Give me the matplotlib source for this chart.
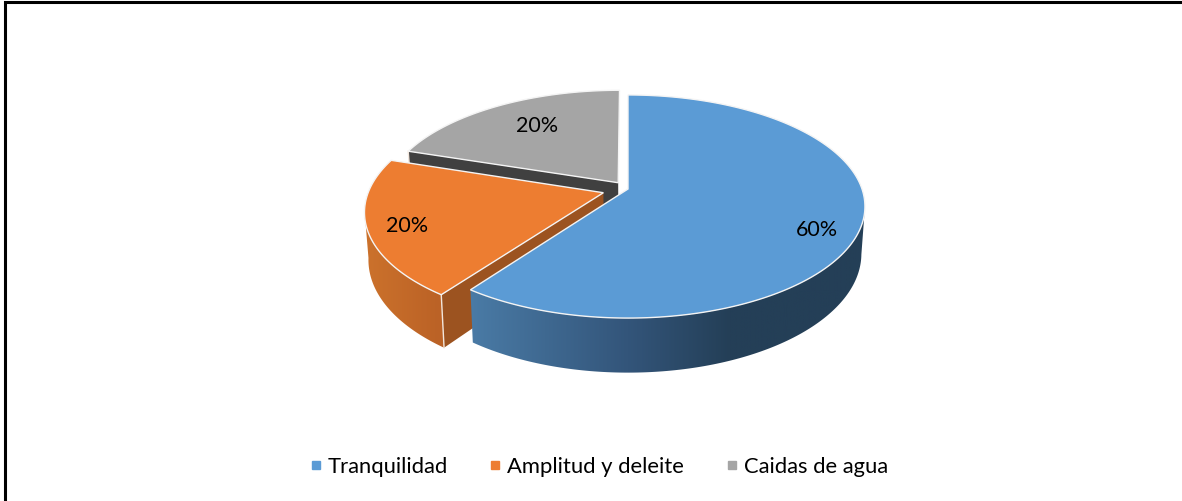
import matplotlib
matplotlib.use('Agg')
import matplotlib.pyplot as plt
from matplotlib.lines import Line2D
from matplotlib.patches import Polygon
import matplotlib.colors as mcolors
import numpy as np

categories = ['Tranquilidad', 'Amplitud y deleite', 'Caidas de agua']
values = [60, 20, 20]
labels = ['60%', '20%', '20%']
explode = [0.0, 0.11, 0.072]

top_colors = ['#5b9bd5', '#ed7d31', '#a5a5a5']
cut_colors = ['#243f57', '#9c5320', '#404040']
# wall colour as a function of screen x
wall_stops = [
    [(470, '#4a7ba6'), (628, '#33557a'), (730, '#243f57'), (865, '#243f57')],
    [(365, '#cc722c'), (440, '#bb6226')],
    [(400, '#606060'), (620, '#404040')],
]

# projection of the pie, in image pixels
cx, apex_y = 628, 190
ax_x, ax_y = 234, 108.8
persp = 0.157
depth = 46
bottom_scale = 0.985

# label placement: distance from the centre, then a nudge in pixels
label_r = [0.83, 0.845, 0.72]
label_nudge = [(-4, 11), (2, 2), (8, -1)]


def project(u, v, low=False):
    w = 1 + persp * v
    x = ax_x * u / w
    y = apex_y - ax_y * v / w
    if low:
        x = x * bottom_scale
        y = y + depth / w
    return cx + x, y


def gradient(stops, x0, x1):
    xs = [s[0] for s in stops]
    rgb = np.array([mcolors.to_rgb(s[1]) for s in stops])
    grid = np.linspace(x0, x1, 400)
    return np.stack([np.interp(grid, xs, rgb[:, c]) for c in range(3)], axis=1)[None, :, :]


fig = plt.figure(figsize=(11.82, 5.02), dpi=100)
ax = fig.add_axes([0, 0, 1, 1])

# frame of the picture, only top and left
ax.plot([5, 5, 1182], [502, 3, 3], color='black', lw=2.2, solid_joinstyle='miter')

shares = np.cumsum([0] + values) / sum(values) * 2 * np.pi

# back slices first so the nearer ones cover them
z = 1
for i in [2, 1, 0]:
    start, end = shares[i], shares[i + 1]
    mid = (start + end) / 2
    du, dv = explode[i] * np.sin(mid), explode[i] * np.cos(mid)
    t = np.linspace(start, end, 240)
    us, vs = np.sin(t) + du, np.cos(t) + dv
    upper = [project(a, b) for a, b in zip(us, vs)]

    # outer wall, only the part facing the viewer, a gradient clipped to its shape
    front = np.cos(t) <= -persp
    if front.sum() > 1:
        upper_f = [project(a, b) for a, b in zip(us[front], vs[front])]
        lower_f = [project(a, b, low=True) for a, b in zip(us[front], vs[front])]
        wall = np.array(upper_f + lower_f[::-1])
        x0, x1 = wall[:, 0].min(), wall[:, 0].max()
        y0, y1 = wall[:, 1].min(), wall[:, 1].max()
        clip = Polygon(wall, closed=True, transform=ax.transData, facecolor='none', edgecolor='none')
        ax.add_patch(clip)
        im = ax.imshow(gradient(wall_stops[i], x0, x1), extent=[x0, x1, y1, y0], aspect='auto', zorder=z)
        im.set_clip_path(clip)
        z += 1

    # cut wall seen from the front, on the side where the slice starts
    if i > 0:
        ue, ve = us[0], vs[0]
        cut = [project(du, dv), project(ue, ve), project(ue, ve, low=True), project(du, dv, low=True)]
        ax.add_patch(Polygon(cut, closed=True, facecolor=cut_colors[i], edgecolor='none', zorder=z))
        z += 1
        edge = [project(ue, ve), project(ue, ve, low=True)]
        ax.plot([edge[0][0], edge[1][0]], [edge[0][1], edge[1][1]], color='#f2e6dc', lw=1.0, zorder=z)
        z += 1

    # top face
    outline = [project(du, dv)] + upper
    ax.add_patch(Polygon(outline, closed=True, facecolor=top_colors[i],
                         edgecolor='#f4f4f4', lw=1.0, joinstyle='miter', zorder=z))
    z += 1

for i in range(3):
    mid = (shares[i] + shares[i + 1]) / 2
    r = label_r[i] + explode[i]
    lx, ly = project(r * np.sin(mid), r * np.cos(mid))
    ax.text(lx + label_nudge[i][0], ly + label_nudge[i][1], labels[i], ha='center', va='center',
            fontsize=15.5, family='Lato', color='black', zorder=z)

handles = [Line2D([], [], marker='s', linestyle='none', markersize=5.5, color=c) for c in top_colors]
ax.legend(handles, categories, loc='center', bbox_to_anchor=(598.5 / 1182, 1 - 467.5 / 502), ncol=3,
          frameon=False, prop={'family': 'Lato', 'size': 15.8}, handlelength=0.6, handletextpad=0.25,
          columnspacing=1.85, labelcolor='black')

ax.set_xlim(0, 1182)
ax.set_ylim(502, 0)
ax.axis('off')

fig.savefig('out.png', dpi=100)
